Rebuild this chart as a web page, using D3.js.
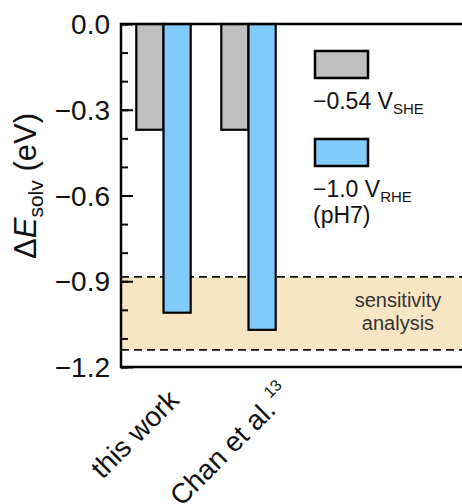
<!DOCTYPE html>
<html>
<head>
<meta charset="utf-8">
<script src="https://cdn.jsdelivr.net/npm/d3@7"></script>
<style>
  html, body { margin: 0; padding: 0; background: #fff; }
  svg { display: block; font-family: "Liberation Sans", Arial, sans-serif; }
</style>
</head>
<body>
<svg id="chart" width="462" height="504"></svg>
<script>
// Solvation energy shift for two studies at two electrode potentials
const categories = ["this work", "Chan et al."];
const categoryRefs = ["", "13"];
const sheValues = [-0.37, -0.37];   // −0.54 V_SHE
const rheValues = [-1.01, -1.07];   // −1.0 V_RHE (pH7)
const sensitivityRange = [-0.885, -1.14];
const yTicks = [0.0, -0.3, -0.6, -0.9, -1.2];
const yMinorTicks = d3.range(0, 13).map(i => -i / 10);

const svg = d3.select("#chart");

const y = d3.scaleLinear().domain([-1.2, 0]).range([367, 24]);
const x = d3.scaleLinear().domain([0.5, 4.6]).range([121, 469.5]);
const barW = 0.32;

// sensitivity analysis band
svg.append("rect")
  .attr("x", x(0.5)).attr("width", x(4.6) - x(0.5))
  .attr("y", y(sensitivityRange[0]))
  .attr("height", y(sensitivityRange[1]) - y(sensitivityRange[0]))
  .attr("fill", "#f8e5c4");

sensitivityRange.forEach(v => {
  svg.append("line")
    .attr("x1", x(0.5)).attr("x2", x(4.6))
    .attr("y1", y(v)).attr("y2", y(v))
    .attr("stroke", "#111").attr("stroke-width", 1.8)
    .attr("stroke-dasharray", "8,5");
});

svg.append("text")
  .attr("x", 398).attr("y", 307)
  .attr("text-anchor", "middle")
  .attr("font-size", 20).attr("fill", "#333")
  .text("sensitivity");
svg.append("text")
  .attr("x", 398).attr("y", 330)
  .attr("text-anchor", "middle")
  .attr("font-size", 20).attr("fill", "#333")
  .text("analysis");

// bars
const idx = categories.map((c, i) => i + 1);
svg.selectAll(".bar-she").data(sheValues).enter().append("rect")
  .attr("class", "bar-she")
  .attr("x", (d, i) => x(idx[i] - barW))
  .attr("width", x(barW) - x(0))
  .attr("y", y(0))
  .attr("height", d => y(d) - y(0))
  .attr("fill", "#c0c0c0").attr("stroke", "#000").attr("stroke-width", 2.2);

svg.selectAll(".bar-rhe").data(rheValues).enter().append("rect")
  .attr("class", "bar-rhe")
  .attr("x", (d, i) => x(idx[i]))
  .attr("width", x(barW) - x(0))
  .attr("y", y(0))
  .attr("height", d => y(d) - y(0))
  .attr("fill", "#80cbfa").attr("stroke", "#000").attr("stroke-width", 2.2);

// frame (right side runs off the page)
svg.append("path")
  .attr("d", `M${x(4.6)},${y(0)} H${x(0.5)} V${y(-1.2)} H${x(4.6)}`)
  .attr("fill", "none").attr("stroke", "#000").attr("stroke-width", 2.5);

// inward ticks
const yAxisMinor = d3.axisRight(y).tickValues(yMinorTicks).tickSize(7).tickFormat("");
const yAxisMajor = d3.axisRight(y).tickValues(yTicks).tickSize(12).tickFormat("");
[yAxisMinor, yAxisMajor].forEach(ax => {
  const g = svg.append("g").attr("transform", `translate(${x(0.5)},0)`).call(ax);
  g.select(".domain").remove();
  g.selectAll("line").attr("stroke", "#000").attr("stroke-width", 2);
});

// tick labels
const fmt = v => (v === 0 ? "0.0" : d3.format(".1f")(v).replace("-", "\u2212"));
svg.selectAll(".ylab").data(yTicks).enter().append("text")
  .attr("class", "ylab")
  .attr("x", 110).attr("y", d => y(d))
  .attr("dy", "0.36em")
  .attr("text-anchor", "end")
  .attr("font-size", 28).attr("fill", "#111")
  .text(fmt);

// y-axis title
const yt = svg.append("text")
  .attr("transform", `translate(36,186) rotate(-90)`)
  .attr("text-anchor", "middle")
  .attr("font-size", 31).attr("fill", "#111");
yt.append("tspan").text("\u0394");
yt.append("tspan").attr("font-style", "italic").text("E");
yt.append("tspan").attr("font-size", 21).attr("dy", 7).text("solv");
yt.append("tspan").attr("dy", -7).text(" (eV)");

// category labels, rotated about their centre below each group
categories.forEach((c, i) => {
  const t = svg.append("text")
    .attr("transform", `translate(${x(idx[i]) - 22},${y(-1.2) + 74}) rotate(-45)`)
    .attr("text-anchor", "middle")
    .attr("dy", categoryRefs[i] ? 15 : 0)
    .attr("font-size", 28).attr("fill", "#111");
  t.append("tspan").text(c);
  if (categoryRefs[i]) {
    t.append("tspan").attr("font-size", 16).attr("dy", -14).attr("dx", 4).text(categoryRefs[i]);
  }
});

// legend
const legend = [
  { color: "#c0c0c0", label: "\u22120.54 V", sub: "SHE", extra: null, y: 51 },
  { color: "#80cbfa", label: "\u22121.0 V", sub: "RHE", extra: "(pH7)", y: 139 }
];
legend.forEach(l => {
  svg.append("rect")
    .attr("x", 315).attr("y", l.y).attr("width", 53).attr("height", 27)
    .attr("fill", l.color).attr("stroke", "#000").attr("stroke-width", 2.5);
  const t = svg.append("text")
    .attr("x", 313).attr("y", l.y + 58)
    .attr("font-size", 23).attr("fill", "#111");
  t.append("tspan").text(l.label);
  t.append("tspan").attr("font-size", 15).attr("dy", 5).text(l.sub);
  if (l.extra) {
    svg.append("text")
      .attr("x", 313).attr("y", l.y + 84)
      .attr("font-size", 23).attr("fill", "#111")
      .text(l.extra);
  }
});
</script>
</body>
</html>
